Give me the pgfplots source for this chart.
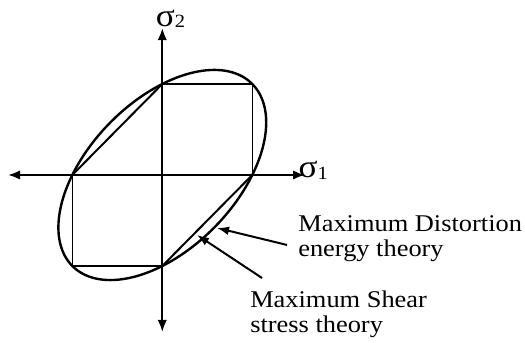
\documentclass[border=0pt]{standalone}
\usepackage{fontspec}
\setmainfont{Liberation Serif}
\usepackage{pgfplots}
\pgfplotsset{compat=1.18}
\usetikzlibrary{arrows.meta}

% Von Mises ellipse  s1^2 - s1 s2 + s2^2 = Sy^2  (stresses in units of Sy)
\usepackage{pgfplotstable}
\pgfplotstableread{
s1 s2
1 1
0.94587 1.04651
0.88455 1.08507
0.81650 1.11536
0.74222 1.13716
0.66231 1.15031
0.57735 1.15471
0.48800 1.15030
0.39493 1.13715
0.29886 1.11536
0.20051 1.08507
0.10064 1.04652
0 1
-0.10064 0.94588
-0.20051 0.88455
-0.29886 0.81650
-0.39493 0.74223
-0.48799 0.66231
-0.57735 0.57735
-0.66231 0.48799
-0.74223 0.39493
-0.81650 0.29886
-0.88455 0.20051
-0.94588 0.10064
-1 0
-1.04652 -0.10064
-1.08507 -0.20051
-1.11536 -0.29886
-1.13715 -0.39493
-1.15030 -0.48800
-1.15471 -0.57735
-1.15031 -0.66231
-1.13716 -0.74222
-1.11536 -0.81650
-1.08507 -0.88455
-1.04651 -0.94587
-1 -1
-0.94587 -1.04651
-0.88455 -1.08507
-0.81650 -1.11536
-0.74222 -1.13716
-0.66231 -1.15031
-0.57735 -1.15471
-0.48800 -1.15030
-0.39493 -1.13715
-0.29886 -1.11536
-0.20051 -1.08507
-0.10064 -1.04652
0 -1
0.10064 -0.94588
0.20051 -0.88455
0.29886 -0.81650
0.39493 -0.74223
0.48799 -0.66231
0.57735 -0.57735
0.66231 -0.48799
0.74223 -0.39493
0.81650 -0.29886
0.88455 -0.20051
0.94588 -0.10064
1 0
1.04652 0.10064
1.08507 0.20051
1.11536 0.29886
1.13715 0.39493
1.15030 0.48800
1.15471 0.57735
1.15031 0.66231
1.13716 0.74222
1.11536 0.81650
1.08507 0.88455
1.04651 0.94587
1 1
}\vonmises

\begin{document}
\begin{tikzpicture}
\begin{axis}[
  x=67.5pt, y=68.25pt,
  axis lines=middle,
  xmin=-1.714, xmax=1.586,
  ymin=-1.725, ymax=1.615,
  xtick=\empty, ytick=\empty,
  clip=false,
  every inner x axis line/.append style={line width=1.5pt,
    {Latex[length=9pt,width=7pt]}-{Latex[length=9pt,width=7pt]}},
  every inner y axis line/.append style={line width=1.5pt,
    {Latex[length=9pt,width=7pt]}-{Latex[length=9pt,width=7pt]}},
]
% distortion energy ellipse
\addplot[black, line width=1.8pt, smooth, no markers] table[x=s1, y=s2] {\vonmises};
% maximum shear stress hexagon: square parts
\addplot[black, line width=1pt, no markers] coordinates {(0,1) (1,1) (1,0)};
\addplot[black, line width=1pt, no markers] coordinates {(-1,0) (-1,-1) (0,-1)};
% maximum shear stress hexagon: diagonals
\addplot[black, line width=1.5pt, no markers] coordinates {(0,1) (-1,0)};
\addplot[black, line width=1.5pt, no markers] coordinates {(1,0) (0,-1)};

% axis names
\node[anchor=base west, inner sep=0pt, xscale=1.1]
  at (axis cs:1.512,-0.033)
  {\fontsize{24}{24}\selectfont σ\raisebox{-1pt}{\fontsize{14}{14}\selectfont 1}};
\node[anchor=base west, inner sep=0pt, xscale=1.1]
  at (axis cs:-0.075,1.637)
  {\fontsize{24}{24}\selectfont σ\raisebox{-1pt}{\fontsize{14}{14}\selectfont 2}};

% pointers
\draw[line width=1.5pt, -{Latex[length=9pt,width=6.5pt]}]
  (axis cs:1.386,-0.769) -- (axis cs:0.608,-0.582);
\draw[line width=1.5pt, -{Latex[length=9pt,width=6.5pt]}]
  (axis cs:1.108,-1.132) -- (axis cs:0.386,-0.659);

% captions
\begin{scope}[every node/.style={anchor=base west, inner sep=0pt, xscale=1.1,
    font=\fontsize{18}{21}\selectfont}]
\node at (axis cs:1.508,-0.626) {Maximum Distortion};
\node at (axis cs:1.508,-0.901) {energy theory};
\node at (axis cs:0.974,-1.4615) {Maximum Shear};
\node at (axis cs:0.974,-1.736) {stress theory};
\end{scope}

\coordinate (tl) at (axis cs:-1.8033,1.923);
\coordinate (br) at (axis cs:4.030,-1.846);
\end{axis}
\pgfresetboundingbox
\path[use as bounding box] (tl) rectangle (br);
\end{tikzpicture}
\end{document}
